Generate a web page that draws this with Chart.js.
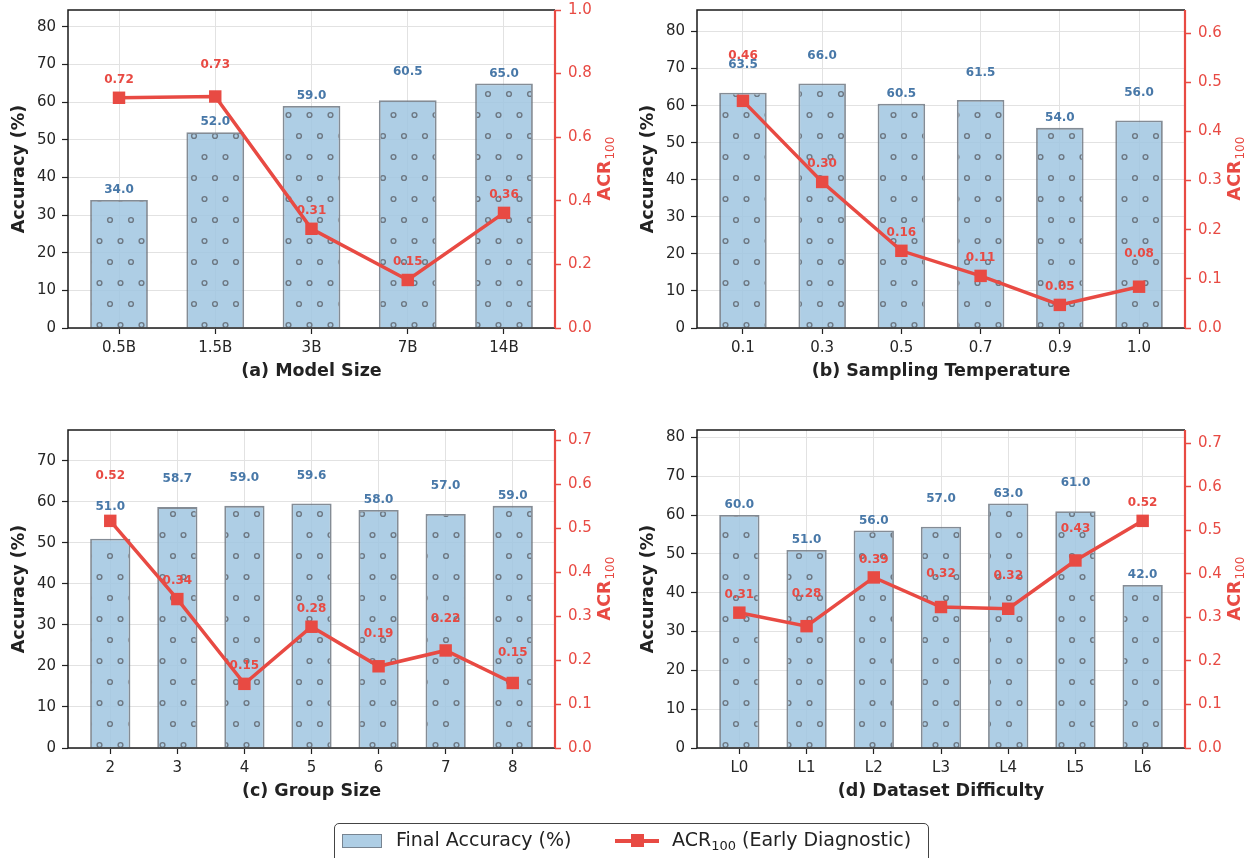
<!DOCTYPE html>
<html>
<head>
<meta charset="utf-8">
<script src="https://cdn.jsdelivr.net/npm/chart.js@4.4.0/dist/chart.umd.min.js"></script>
<style>
  body { margin: 0; background: #fff; width: 1251px; height: 858px; overflow: hidden; position: relative; font-family: "DejaVu Sans", sans-serif; }
  .panel { position: absolute; width: 626px; height: 415px; }
  #legend { position: absolute; left: 334px; top: 823px; width: 595px; height: 48px; border: 1px solid #444; border-radius: 5px; box-sizing: border-box; color: #222; font-size: 19px; }
  #legend .sw { position: absolute; left: 7px; top: 10px; width: 38px; height: 12px; background: rgba(160,198,224,0.85); border: 1.5px solid rgba(110,120,130,0.85); }
  #legend .t { position: absolute; top: 3px; white-space: nowrap; line-height: 24px; }
  #legend .ln { position: absolute; left: 280px; top: 15px; width: 44px; height: 3.5px; background: #e84a43; }
  #legend .sq { position: absolute; left: 296px; top: 10px; width: 13px; height: 13px; background: #e84a43; }
  #legend sub { font-size: 13px; vertical-align: -4px; line-height: 0; }
</style>
</head>
<body>
<div class="panel" style="left:0;top:0"><canvas id="chartA"></canvas></div>
<div class="panel" style="left:626px;top:0"><canvas id="chartB"></canvas></div>
<div class="panel" style="left:0;top:420px"><canvas id="chartC"></canvas></div>
<div class="panel" style="left:626px;top:420px"><canvas id="chartD"></canvas></div>
<div id="legend">
  <span class="sw"></span>
  <span class="t" style="left:61px">Final Accuracy (%)</span>
  <span class="ln"></span><span class="sq"></span>
  <span class="t" style="left:337px">ACR<sub>100</sub> (Early Diagnostic)</span>
</div>
<script>
// (a) Model Size
const sizeLabels = ["0.5B", "1.5B", "3B", "7B", "14B"];
const sizeAcc = [34.0, 52.0, 59.0, 60.5, 65.0];
const sizeAcr = [0.724, 0.728, 0.312, 0.151, 0.362];

// (b) Sampling Temperature
const tempLabels = ["0.1", "0.3", "0.5", "0.7", "0.9", "1.0"];
const tempAcc = [63.5, 66.0, 60.5, 61.5, 54.0, 56.0];
const tempAcr = [0.462, 0.297, 0.157, 0.106, 0.047, 0.084];

// (c) Group Size
const groupLabels = ["2", "3", "4", "5", "6", "7", "8"];
const groupAcc = [51.0, 58.7, 59.0, 59.6, 58.0, 57.0, 59.0];
const groupAcr = [0.517, 0.339, 0.146, 0.276, 0.186, 0.222, 0.148];

// (d) Dataset Difficulty
const diffLabels = ["L0", "L1", "L2", "L3", "L4", "L5", "L6"];
const diffAcc = [60.0, 51.0, 56.0, 57.0, 63.0, 61.0, 42.0];
const diffAcr = [0.311, 0.280, 0.392, 0.324, 0.320, 0.431, 0.522];

// extra lift (px) of the value labels, so they do not collide
const sizeLift = { acc: [0, 0, 0, 18, 0], acr: [0, 14, 0, 0, 0] };
const tempLift = { acc: [18, 18, 0, 17, 0, 18], acr: [27, 0, 0, 0, 0, 15] };
const groupLift = { acc: [22, 18, 18, 18, 0, 18, 0], acr: [27, 0, 0, 0, 14, 14, 12] };
const diffLift = { acc: [0, 0, 0, 18, 0, 18, 0], acr: [0, 14, 0, 15, 15, 14, 0] };

const RED = "#e84a43";
const BLUE_TXT = "#4878a8";
const TICK_TXT = "#262626";
const GRID = "#e2e2e2";
const FONT = '"DejaVu Sans"';

// bar fill with 'o' hatch
function hatchPattern() {
    const c = document.createElement("canvas");
    c.width = 21; c.height = 42;
    const g = c.getContext("2d");
    g.fillStyle = "rgba(160,198,224,0.85)";
    g.fillRect(0, 0, 21, 42);
    g.strokeStyle = "rgba(105,115,125,0.95)";
    g.lineWidth = 1.4;
    [[5, 10], [15.5, 31]].forEach(([x, y]) => {
        g.beginPath();
        g.arc(x, y, 2.4, 0, Math.PI * 2);
        g.stroke();
    });
    return g.createPattern(c, "repeat");
}

// frame, value labels and axis titles
const overlay = {
    id: "overlay",
    afterDatasetsDraw(chart) {
        const { ctx, chartArea: a } = chart;
        const p = chart.options.plugins.overlay;
        ctx.save();
        ctx.lineWidth = 1.5;
        ctx.strokeStyle = "#1a1a1a";
        ctx.beginPath();
        ctx.moveTo(a.right, a.top);
        ctx.lineTo(a.left, a.top);
        ctx.lineTo(a.left, a.bottom);
        ctx.lineTo(a.right, a.bottom);
        ctx.stroke();
        ctx.strokeStyle = RED;
        ctx.lineWidth = 2.2;
        ctx.beginPath();
        ctx.moveTo(a.right, a.top);
        ctx.lineTo(a.right, a.bottom);
        ctx.stroke();

        ctx.font = "bold 12px " + FONT;
        ctx.textAlign = "center";
        ctx.textBaseline = "middle";
        chart.getDatasetMeta(0).data.forEach((b, i) => {
            ctx.fillStyle = BLUE_TXT;
            ctx.fillText(p.acc[i].toFixed(1), b.x, b.y - 10 - p.lift.acc[i]);
        });
        chart.getDatasetMeta(1).data.forEach((pt, i) => {
            ctx.fillStyle = RED;
            ctx.fillText(p.acr[i].toFixed(2), pt.x, pt.y - 18 - p.lift.acr[i]);
        });

        // x title
        ctx.fillStyle = "#222";
        ctx.font = "bold 17.5px " + FONT;
        ctx.fillText(p.title, (a.left + a.right) / 2, a.bottom + 43);
        // left title
        ctx.save();
        ctx.translate(a.left - 49, (a.top + a.bottom) / 2);
        ctx.rotate(-Math.PI / 2);
        ctx.fillText("Accuracy (%)", 0, 0);
        ctx.restore();
        // right title ACR_100
        ctx.save();
        ctx.translate(a.right + 50, (a.top + a.bottom) / 2);
        ctx.rotate(-Math.PI / 2);
        ctx.fillStyle = RED;
        ctx.textAlign = "left";
        ctx.font = "bold 17.5px " + FONT;
        const w1 = ctx.measureText("ACR").width;
        ctx.font = "12px " + FONT;
        const w2 = ctx.measureText("100").width;
        ctx.font = "bold 17.5px " + FONT;
        ctx.fillText("ACR", -(w1 + w2) / 2, 0);
        ctx.font = "12px " + FONT;
        ctx.fillText("100", -(w1 + w2) / 2 + w1 + 1, 6);
        ctx.restore();
        ctx.restore();
    }
};

function stepTicks(step, max) {
    return scale => {
        const t = [];
        for (let k = 0; k * step <= max + 1e-9; k++) t.push({ value: +(k * step).toFixed(6) });
        scale.ticks = t;
    };
}

function fixWidth(w) {
    return s => { s.width = w; s.paddingTop = 0; s.paddingBottom = 0; };
}

function makeChart(id, labels, acc, acr, lift, title, leftW, rightW, acrStep) {
    const n = labels.length;
    const margin = 0.05 * (n - 1 + 0.6);
    const accMax = Math.max(...acc) * 1.3;
    const acrMax = Math.min(1, Math.max(...acr) * 1.4);
    const tickFont = { family: FONT, size: 15 };
    new Chart(document.getElementById(id), {
        data: {
            datasets: [
                {
                    type: "bar",
                    label: "Final Accuracy (%)",
                    data: acc.map((v, i) => ({ x: i, y: v })),
                    yAxisID: "y",
                    backgroundColor: hatchPattern(),
                    borderColor: "rgba(110,120,130,0.85)",
                    borderWidth: 1.8,
                    barPercentage: 0.6,
                    categoryPercentage: 1,
                    order: 2
                },
                {
                    type: "line",
                    label: "ACR100 (Early Diagnostic)",
                    data: acr.map((v, i) => ({ x: i, y: v })),
                    yAxisID: "y1",
                    borderColor: RED,
                    borderWidth: 3.5,
                    pointStyle: "rect",
                    pointRadius: 8.8,
                    pointBackgroundColor: RED,
                    pointBorderWidth: 0,
                    order: 1
                }
            ]
        },
        options: {
            responsive: true,
            maintainAspectRatio: false,
            animation: false,
            layout: { padding: { top: 10, left: 0, right: 0, bottom: 0 } },
            plugins: {
                legend: { display: false },
                tooltip: { enabled: false },
                overlay: { acc, acr, lift, title }
            },
            scales: {
                x: {
                    type: "linear",
                    offset: false,
                    min: -0.3 - margin,
                    max: n - 1 + 0.3 + margin,
                    afterBuildTicks: s => { s.ticks = labels.map((_, i) => ({ value: i })); },
                    ticks: { callback: v => labels[v], font: tickFont, color: TICK_TXT, padding: 5, maxRotation: 0, autoSkip: false },
                    grid: { offset: false, color: GRID, tickColor: "#222", tickLength: 6, tickWidth: 1.2 },
                    border: { display: false },
                    afterFit: s => { s.height = 87; s.paddingLeft = 0; s.paddingRight = 0; }
                },
                y: {
                    position: "left",
                    min: 0,
                    max: accMax,
                    afterBuildTicks: stepTicks(10, accMax),
                    ticks: { font: tickFont, color: TICK_TXT, padding: 6 },
                    grid: { color: GRID, tickColor: "#222", tickLength: 6, tickWidth: 1.2 },
                    border: { display: false },
                    afterFit: fixWidth(leftW)
                },
                y1: {
                    position: "right",
                    min: 0,
                    max: acrMax,
                    afterBuildTicks: stepTicks(acrStep, acrMax),
                    ticks: { font: tickFont, color: RED, padding: 7, callback: v => v.toFixed(1) },
                    grid: { drawOnChartArea: false, tickColor: RED, tickLength: 6, tickWidth: 1.5 },
                    border: { display: false },
                    afterFit: fixWidth(rightW)
                }
            }
        },
        plugins: [overlay]
    });
}

makeChart("chartA", sizeLabels, sizeAcc, sizeAcr, sizeLift, "(a) Model Size", 68, 71, 0.2);
makeChart("chartB", tempLabels, tempAcc, tempAcr, tempLift, "(b) Sampling Temperature", 71, 67, 0.1);
makeChart("chartC", groupLabels, groupAcc, groupAcr, groupLift, "(c) Group Size", 68, 71, 0.1);
makeChart("chartD", diffLabels, diffAcc, diffAcr, diffLift, "(d) Dataset Difficulty", 71, 67, 0.1);
</script>
</body>
</html>
